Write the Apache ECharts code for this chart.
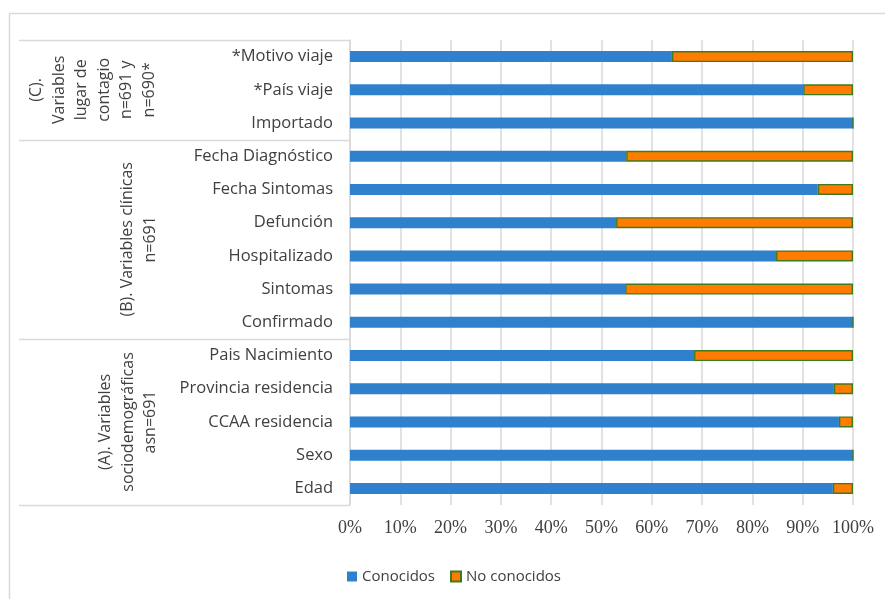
<!DOCTYPE html>
<html>
<head>
<meta charset="utf-8">
<script src="https://cdn.jsdelivr.net/npm/echarts@6/dist/echarts.min.js"></script>
<style>
html,body{margin:0;padding:0;background:#fff;}
#c{width:885px;height:599px;}
</style>
</head>
<body>
<div id="c"></div>
<script>
// Categories bottom to top
var categories = ['Edad','Sexo','CCAA residencia','Provincia residencia','Pais Nacimiento',
  'Confirmado','Sintomas','Hospitalizado','Defunción','Fecha Sintomas','Fecha Diagnóstico',
  'Importado','*País viaje','*Motivo viaje'];
var conocidos   = [96.0, 100, 97.2, 96.2, 68.4, 100, 54.7, 84.7, 52.9, 93.0, 54.9, 100, 90.1, 64.0];
var noConocidos = [4.0, 0, 2.8, 3.8, 31.6, 0, 45.3, 15.3, 47.1, 7.0, 45.1, 0, 9.9, 36.0];
var seriesNames = ['Conocidos','No conocidos'];
var groupLabels = [
  {text:'(C).\nVariables\nlugar de\ncontagio\nn=691 y\nn=690*', from:11, to:13, cx:93},
  {text:'(B). Variables clínicas\nn=691', from:5, to:10, cx:139},
  {text:'(A). Variables\nsociodemográficas\nasn=691', from:0, to:4, cx:128}
];

var gridTop = 40, gridBottom = 94, H = 599, W = 885;
var plotH = H - gridTop - gridBottom;
var band = plotH / categories.length;
var catFont = '"Open Sans", "Noto Sans", sans-serif';
var lineColor = '#d9d9d9';

var graphics = [];
// outer frame
graphics.push({type:'rect', shape:{x:9.5, y:13.5, width:900, height:620}, style:{fill:null, stroke:lineColor, lineWidth:1.5}, silent:true, z:-1});
// table lines: top, bottom and group separators
function yAtIndexBoundary(i){ return H - gridBottom - i*band; }
var bounds = [0, 5, 11, 14];
bounds.forEach(function(b){
  var y = Math.round(yAtIndexBoundary(b)) + 0.5;
  graphics.push({type:'line', shape:{x1:19, y1:y, x2:350, y2:y}, style:{stroke:lineColor, lineWidth:1.5}, silent:true});
});
groupLabels.forEach(function(g){
  var yc = (yAtIndexBoundary(g.from) + yAtIndexBoundary(g.to+1))/2;
  graphics.push({type:'text', x:g.cx, y:yc, rotation:Math.PI/2,
    style:{text:g.text, x:0, y:0, align:'center', verticalAlign:'middle', textAlign:'center', textVerticalAlign:'middle',
      font:'16px ' + catFont, fill:'#404040', lineHeight:22.5}, silent:true});
});

var chart = echarts.init(document.getElementById('c'));
chart.setOption({
  animation:false,
  backgroundColor:'#fff',
  grid:{left:350, right:32, top:gridTop, bottom:gridBottom, containLabel:false},
  legend:{
    data:seriesNames, left:342, top:564, icon:'rect', itemWidth:10, itemHeight:10, itemGap:15, itemTextGap:4,
    textStyle:{fontFamily:catFont, fontSize:15, color:'#404040'}
  },
  xAxis:{
    type:'value', min:0, max:100, interval:10,
    axisLine:{show:false}, axisTick:{show:false},
    splitLine:{show:true, lineStyle:{color:lineColor, width:1.5}},
    axisLabel:{formatter:'{value}%', fontFamily:'"Liberation Serif", "DejaVu Serif", serif', fontSize:18, color:'#404040', margin:14}
  },
  yAxis:{
    type:'category', data:categories,
    axisLine:{show:true, lineStyle:{color:lineColor, width:1.5}},
    axisTick:{show:false},
    axisLabel:{fontFamily:catFont, fontSize:16.5, color:'#404040', margin:17}
  },
  series:[
    {name:seriesNames[0], type:'bar', stack:'t', data:conocidos, barWidth:11,
      itemStyle:{color:'#2f80cd'}},
    {name:seriesNames[1], type:'bar', stack:'t', data:noConocidos, barWidth:11,
      itemStyle:{color:'#ff7c00', borderColor:'#3f7a1e', borderWidth:1.4}}
  ],
  graphic:graphics
});
</script>
</body>
</html>
